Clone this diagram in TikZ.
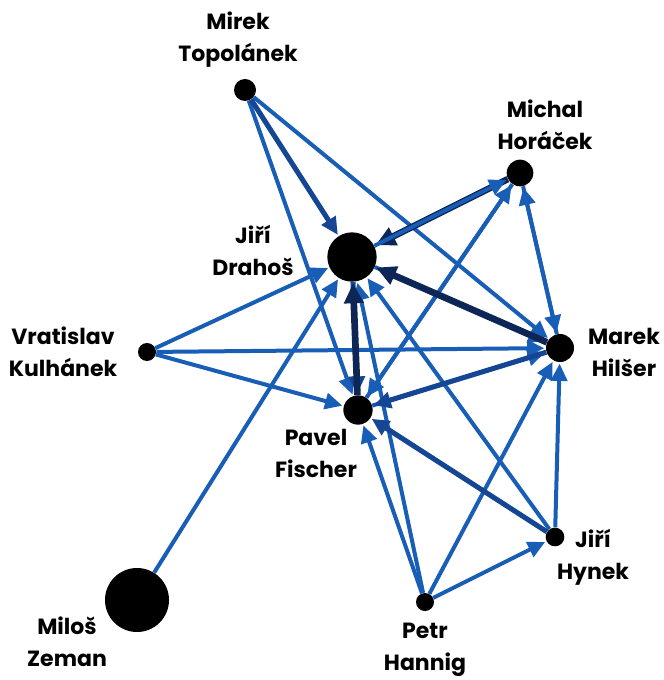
\documentclass[tikz,border=0pt]{standalone}
\usepackage{fontspec}
\setmainfont{Poppins}
\usepackage{tikz}
\usetikzlibrary{arrows.meta}
\definecolor{edgeblue}{RGB}{24,94,182}
\definecolor{edgemid}{RGB}{20,70,148}
\definecolor{edgenavy}{RGB}{13,38,86}

\begin{document}
\begin{tikzpicture}
[->,>={Triangle[length=13pt,width=12pt]},shorten >=1pt,x=0.75pt,y=-0.75pt,
  main node/.style={circle,fill=black,inner sep=0pt},
  who/.style={font=\bfseries\fontsize{16.5}{24}\selectfont,align=center},
  link/.style={draw=edgeblue,line width=3pt},
  firm link/.style={draw=edgemid,line width=3.8pt},
  heavy link/.style={draw=edgenavy,line width=5pt,>={Triangle[length=15pt,width=14pt]}}]
  \useasboundingbox (0,0) rectangle (663,680);

  \node[main node,minimum size=16.5pt] (top) at (245,90) {};
  \node[main node,minimum size=20pt] (hor) at (520,173) {};
  \node[main node,minimum size=37pt] (dra) at (352,257) {};
  \node[main node,minimum size=13.5pt] (kul) at (147,352) {};
  \node[main node,minimum size=21pt] (hil) at (560,348) {};
  \node[main node,minimum size=22pt] (fis) at (358,410) {};
  \node[main node,minimum size=14pt] (hyn) at (555,537) {};
  \node[main node,minimum size=13.5pt] (han) at (425,602) {};
  \node[main node,minimum size=48pt] (zem) at (137,600) {};

  \node[who] (ltop) at (238,40) {Mirek\\Topolánek};
  \node[who] (lhor) at (545,125) {Michal\\Horáček};
  \node[who] (ldra) at (253,250) {Jiří\\Drahoš};
  \node[who] (lkul) at (63,352) {Vratislav\\Kulhánek};
  \node[who] (lhil) at (624,352) {Marek\\Hilšer};
  \node[who] (lfis) at (316,453) {Pavel\\Fischer};
  \node[who] (lhyn) at (593,557) {Jiří\\Hynek};
  \node[who] (lhan) at (425,650) {Petr\\Hannig};
  \node[who] (lzem) at (67,642) {Miloš\\Zeman};

  \foreach \from/\to/\kind in {top/fis/link,top/hil/link,
      kul/dra/link,kul/fis/link,kul/hil/link,zem/dra/link,
      hor/dra/heavy link,dra/hor/link,dra/hil/link,hor/hil/link,hil/hor/link,
      fis/hor/link,hor/fis/link,hyn/dra/link,hyn/hil/link,
      han/fis/link,han/dra/link,han/hil/link,han/hyn/link,
      top/dra/firm link,fis/hil/link,hil/fis/firm link,hyn/fis/firm link,
      dra/fis/firm link,fis/dra/heavy link,hil/dra/heavy link}
     \draw[\kind] (\from) -- (\to);

\end{tikzpicture}
\end{document}
